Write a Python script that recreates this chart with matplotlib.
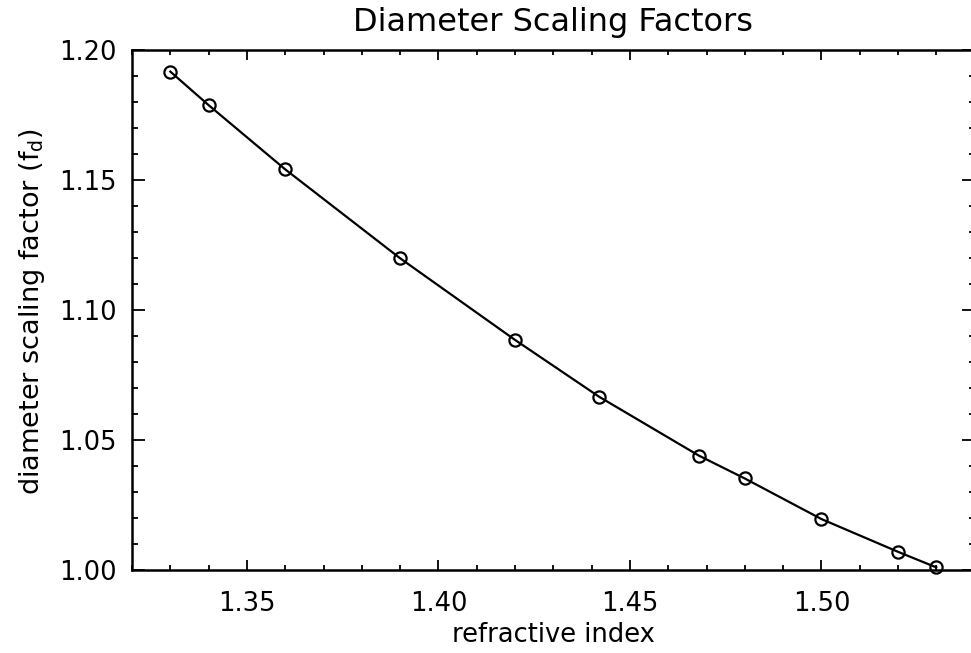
"""
Diameter scaling factor versus refractive index, IDL-style line plot.
"""

import matplotlib

matplotlib.use("Agg")
import matplotlib.pyplot as plt
from matplotlib.ticker import MultipleLocator, FormatStrFormatter

# values
refractive_index = [1.33, 1.34, 1.36, 1.39, 1.42, 1.442, 1.468, 1.48, 1.50, 1.52, 1.53]
scaling_factor = [1.1917, 1.1788, 1.1541, 1.1199, 1.0885, 1.0666, 1.0440, 1.0352, 1.0196, 1.0070, 1.0010]

title = "Diameter Scaling Factors"
xlabel = "refractive index"
ylabel = r"diameter scaling factor (f$_\mathregular{d}$)"

plt.rcParams["font.family"] = ["DejaVu Sans"]

W, H = 971, 653
fig = plt.figure(figsize=(W / 100, H / 100), dpi=100)

# axes box in pixels: left 132, right ~975 (just past the image edge), top 50, bottom 570
ax = fig.add_axes([132 / W, 1 - 570 / H, 842.6 / W, 520 / H])

ax.plot(
    refractive_index,
    scaling_factor,
    color="black",
    lw=1.6,
    marker="o",
    markersize=8.8,
    markerfacecolor="none",
    markeredgecolor="black",
    markeredgewidth=1.6,
    clip_on=False,
)

ax.set_xlim(1.32, 1.54)
ax.set_ylim(1.00, 1.20)

ax.xaxis.set_major_locator(MultipleLocator(0.05))
ax.xaxis.set_minor_locator(MultipleLocator(0.01))
ax.yaxis.set_major_locator(MultipleLocator(0.05))
ax.yaxis.set_minor_locator(MultipleLocator(0.01))
ax.xaxis.set_major_formatter(FormatStrFormatter("%.2f"))
ax.yaxis.set_major_formatter(FormatStrFormatter("%.2f"))

ax.tick_params(axis="both", which="both", direction="in", top=True, right=True,
               color="black", labelsize=18.5)
ax.tick_params(axis="x", which="major", length=7.2, width=1.3, pad=15)
ax.tick_params(axis="x", which="minor", length=3.6, width=1.3)
ax.tick_params(axis="y", which="major", length=9.4, width=1.3, pad=10.8)
ax.tick_params(axis="y", which="minor", length=4.3, width=1.3)

for spine in ax.spines.values():
    spine.set_linewidth(1.8)

# title / axis labels placed at the reference positions
cx = (132 + 974.6) / 2 / W
fig.text(cx, 1 - 31 / H, title, ha="center", va="baseline", fontsize=23)
fig.text(cx, 1 - 642 / H, xlabel, ha="center", va="baseline", fontsize=18.5)
fig.text(32 / W, 1 - 312 / H, ylabel, ha="center", va="center", rotation=90,
         rotation_mode="anchor", fontsize=19.5)

fig.savefig("out.png", dpi=100)
